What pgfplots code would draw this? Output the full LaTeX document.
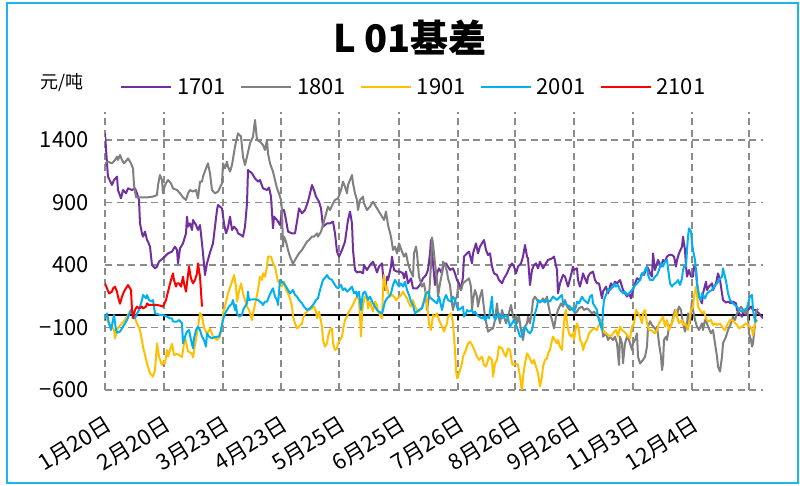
\documentclass[border=0pt]{standalone}
\usepackage{pgfplots}
\pgfplotsset{compat=1.18}
\usepackage{fontspec}
\setmainfont{Noto Sans CJK SC}
\definecolor{c1701}{HTML}{7030A0}
\definecolor{c1801}{HTML}{808080}
\definecolor{c1901}{HTML}{FFC000}
\definecolor{c2001}{HTML}{00B0F0}
\definecolor{c2101}{HTML}{FF0000}
\definecolor{frame}{HTML}{1EB4EC}
\definecolor{gridgray}{HTML}{8C8C8C}
\begin{document}
\begin{tikzpicture}
\useasboundingbox (0,0) rectangle (800pt,486pt);
\fill[white] (0,0) rectangle (800pt,486pt);
\draw[color=frame, line width=2pt] (7pt,3pt) rectangle (798pt,483pt);
\node[font=\fontsize{38}{40}\selectfont\bfseries] at (410pt,448pt) {L 01基差};
\node[font=\fontsize{18}{20}\selectfont, anchor=west, inner sep=0pt] at (40pt,403pt) {元/吨};
\begin{axis}[
  at={(105pt,96pt)}, anchor=south west, scale only axis,
  width=658pt, height=277.5pt,
  xmin=105, xmax=763, ymin=-600, ymax=1620,
  axis line style={draw=none},
  major tick length=0pt,
  xtick={105,164,223,281,339,399,458,515,574,633,692,749},
  xticklabels={1月20日,2月20日,3月23日,4月23日,5月25日,6月25日,7月26日,8月26日,9月26日,11月3日,12月4日,},
  ytick={-600,-100,400,900,1400},
  yticklabels={−600,−100,400,900,1400},
  xmajorgrids, ymajorgrids,
  major grid style={dash pattern=on 7pt off 4.5pt, color=gridgray, line width=1.5pt},
  yticklabel style={font=\fontsize{22}{24}\selectfont, anchor=east, inner sep=0pt, xshift=-16pt},
  xticklabel style={font=\fontsize{22}{24}\selectfont, xshift=-1pt, yshift=-24pt, rotate=32, anchor=north east, inner sep=0pt},
  legend columns=5,
  legend style={at={(0.0228,1.0919)}, anchor=west, draw=none, fill=none, inner sep=0pt,
    font=\fontsize{22}{24}\selectfont,
    nodes={inner sep=2pt},
    /tikz/every odd column/.append style={column sep=3pt},
    /tikz/every even column/.append style={column sep=12pt}},
  legend image code/.code={\draw[#1] (0pt,0pt) -- (50pt,0pt);},
  every axis plot/.append style={line width=2pt, line join=round},
]
\addplot[black, line width=1.5pt, forget plot] coordinates {(105,0) (763,0)};
\pgfplotsinvokeforeach{105,164,223,281,339,399,458,515,574,633,692,749}{
  \draw[black, line width=1.4pt] (axis cs:#1,0) -- ++(0pt,-5pt);
}
\addplot[c1701] coordinates {(105,1453)(107,1213)(108,1107)(112,1040)(114,1080)(117,1107)(118,1000)(121,933)(123,1000)(126,973)(128,1013)(132,1000)(135,1013)(137,973)(139,920)(140,733)(142,653)(143,627)(145,667)(147,600)(148,587)(150,547)(152,400)(155,373)(157,387)(159,427)(163,453)(168,493)(172,507)(175,547)(177,520)(178,413)(180,533)(183,573)(186,653)(187,787)(188,707)(190,733)(192,680)(193,760)(196,720)(198,680)(200,720)(202,573)(203,493)(205,320)(207,413)(210,500)(213,573)(217,840)(218,880)(222,853)(224,733)(226,653)(228,700)(230,787)(232,680)(234,707)(237,680)(238,653)(241,640)(243,627)(245,707)(247,893)(248,1160)(252,1133)(255,1093)(258,1067)(260,1080)(263,1013)(267,1000)(269,1020)(271,947)(273,693)(274,787)(277,760)(280,720)(282,827)(284,840)(286,760)(288,667)(292,653)(295,653)(297,747)(299,853)(302,813)(305,840)(308,907)(310,973)(312,1040)(314,1000)(316,947)(319,907)(321,853)(323,707)(327,733)(330,733)(333,747)(335,653)(337,507)(339,467)(342,520)(345,587)(348,760)(350,827)(352,733)(353,520)(355,360)(357,340)(360,347)(363,333)(364,400)(367,360)(370,400)(373,427)(375,387)(377,340)(379,387)(382,413)(383,320)(385,200)(387,307)(388,280)(391,387)(392,467)(394,360)(397,347)(400,347)(403,333)(404,293)(406,347)(408,253)(411,293)(413,213)(417,213)(420,240)(423,293)(426,320)(428,360)(430,493)(431,600)(433,413)(435,240)(437,333)(439,373)(442,333)(443,387)(446,413)(448,387)(450,360)(453,373)(455,333)(457,280)(459,253)(461,200)(463,307)(464,467)(467,493)(469,507)(472,413)(473,493)(476,573)(478,493)(480,547)(483,587)(484,600)(486,520)(488,480)(490,493)(492,387)(494,333)(497,320)(499,280)(502,253)(504,293)(507,333)(509,373)(512,413)(514,387)(516,333)(518,387)(521,413)(523,467)(525,560)(527,467)(528,453)(530,240)(532,360)(534,400)(536,413)(538,373)(540,427)(543,373)(545,400)(548,440)(552,453)(554,467)(557,360)(558,173)(560,253)(563,320)(565,307)(567,253)(568,227)(571,320)(573,387)(574,360)(577,373)(578,280)(580,227)(582,293)(583,333)(587,253)(588,307)(590,333)(593,347)(595,280)(597,253)(599,253)(602,133)(603,187)(606,227)(608,173)(611,253)(613,227)(615,267)(617,253)(620,280)(623,200)(625,173)(627,147)(629,173)(631,133)(633,200)(635,253)(637,293)(640,280)(642,333)(644,320)(647,387)(649,360)(650,333)(652,307)(653,493)(655,360)(657,413)(658,440)(661,387)(663,440)(665,427)(667,467)(669,480)(672,480)(674,467)(676,387)(677,440)(679,493)(682,547)(683,627)(685,520)(686,387)(687,307)(689,360)(691,307)(693,307)(694,387)(696,360)(697,253)(699,147)(702,93)(703,173)(706,267)(707,200)(709,227)(712,253)(713,200)(716,253)(718,333)(720,280)(722,173)(723,120)(726,99)(728,107)(731,93)(733,107)(736,93)(737,40)(739,13)(742,-13)(743,27)(746,0)(748,40)(751,67)(753,40)(756,40)(757,27)(759,13)(763,-27)};
\addlegendentry{1701}
\addplot[c1801] coordinates {(105,1213)(108,1227)(112,1213)(115,1240)(117,1267)(118,1240)(120,1280)(122,1240)(124,1213)(127,1240)(128,1253)(131,1213)(133,1173)(134,1040)(136,941)(140,941)(147,941)(153,947)(157,960)(158,1040)(160,1120)(162,1080)(163,973)(165,1040)(167,1067)(168,1080)(171,1053)(173,1013)(177,1000)(180,973)(183,941)(186,920)(188,973)(190,1000)(193,987)(196,1000)(198,933)(200,1067)(202,1067)(203,1107)(206,1173)(208,1213)(210,1133)(212,1000)(215,973)(218,987)(222,1053)(223,1213)(225,1173)(227,1227)(228,1187)(230,1147)(232,1200)(235,1347)(238,1453)(241,1427)(243,1267)(245,1200)(247,1267)(250,1373)(253,1427)(255,1560)(257,1400)(260,1387)(263,1360)(265,1320)(267,1400)(268,1293)(270,1213)(273,1147)(275,1080)(277,1013)(279,973)(281,920)(282,840)(283,547)(284,627)(286,587)(288,520)(290,467)(293,408)(295,440)(297,467)(299,493)(302,520)(304,547)(307,587)(309,600)(312,627)(314,627)(317,653)(318,627)(321,667)(323,720)(327,840)(328,867)(330,840)(333,893)(335,920)(338,933)(341,1000)(343,1067)(345,1027)(347,973)(348,1040)(352,1120)(353,1053)(355,973)(357,920)(358,840)(360,920)(363,947)(364,893)(367,840)(370,867)(373,907)(375,880)(378,840)(382,787)(384,760)(386,827)(388,720)(391,627)(393,520)(395,547)(397,493)(399,573)(402,507)(404,467)(406,493)(408,413)(410,360)(413,307)(414,493)(416,547)(417,493)(419,307)(422,227)(424,253)(426,160)(427,40)(429,147)(431,400)(432,620)(433,573)(435,413)(437,280)(438,147)(440,253)(442,333)(443,427)(445,400)(447,347)(448,293)(450,240)(452,93)(453,40)(455,120)(457,147)(458,227)(461,200)(463,253)(465,267)(467,280)(469,293)(471,227)(472,40)(473,120)(475,200)(477,147)(478,67)(480,147)(482,200)(483,120)(485,-13)(487,-93)(488,-133)(490,-120)(493,-107)(495,-40)(497,93)(498,13)(500,-67)(502,40)(503,13)(506,-67)(508,-13)(511,80)(513,-13)(514,-40)(516,0)(517,-67)(519,-13)(521,-120)(523,-200)(525,-93)(527,-67)(528,-13)(530,-67)(532,40)(533,120)(535,147)(537,120)(540,100)(542,120)(543,133)(545,107)(547,147)(548,93)(550,13)(552,-40)(554,-107)(556,-13)(558,40)(561,93)(563,67)(565,120)(567,67)(570,40)(573,53)(575,13)(577,27)(579,53)(582,67)(584,40)(587,53)(589,40)(592,13)(594,27)(597,0)(599,-27)(602,-67)(603,-173)(606,-147)(608,-200)(610,-173)(613,-200)(615,-173)(617,-227)(619,-400)(620,-173)(622,-227)(623,-387)(625,-227)(627,-173)(629,-200)(632,-280)(633,-227)(635,-200)(637,-147)(638,-333)(640,-387)(643,-360)(645,-333)(647,-253)(648,-93)(650,-50)(652,-80)(656,-120)(657,-93)(659,-227)(661,-333)(662,-440)(663,-387)(664,-200)(666,-173)(667,-200)(669,-93)(672,-67)(673,-13)(675,40)(677,-13)(678,40)(679,67)(681,40)(683,-67)(685,-133)(687,-67)(688,13)(690,-67)(692,120)(693,40)(695,-40)(697,-93)(699,-120)(702,-67)(703,-120)(705,-40)(707,-67)(708,-93)(711,-147)(713,-120)(715,-227)(717,-333)(718,-413)(720,-453)(722,-333)(723,-227)(726,-173)(728,-120)(731,-67)(733,-13)(735,-40)(737,13)(739,40)(741,67)(743,40)(745,13)(747,53)(748,-13)(749,-147)(751,-200)(752,-253)(753,-227)(755,-67)(756,27)(758,50)};
\addlegendentry{1801}
\addplot[c1901] coordinates {(105,0)(107,-40)(109,-67)(112,-93)(114,-120)(115,-187)(117,-120)(119,-93)(122,-67)(125,-40)(128,0)(131,40)(133,13)(135,-27)(137,-67)(140,-120)(143,-253)(147,-387)(150,-467)(153,-493)(155,-440)(157,-227)(159,-333)(162,-400)(164,-370)(165,-387)(167,-280)(168,-333)(170,-280)(172,-230)(174,-320)(177,-310)(182,-336)(185,-176)(188,-290)(192,-310)(193,-340)(195,-240)(198,-100)(200,16)(202,-10)(204,-100)(207,-150)(210,-110)(213,-173)(217,-200)(220,-173)(222,-93)(223,13)(225,67)(228,173)(232,267)(234,320)(236,227)(237,107)(239,187)(241,253)(243,173)(245,120)(247,67)(249,40)(252,-40)(253,13)(256,120)(258,200)(260,307)(262,280)(263,333)(265,307)(267,387)(268,467)(271,467)(273,413)(275,387)(277,307)(278,267)(280,253)(282,227)(284,267)(286,200)(288,173)(290,133)(292,67)(293,-13)(295,-67)(297,-107)(299,-93)(302,-67)(303,-27)(305,13)(307,27)(309,40)(312,53)(314,67)(316,27)(317,-27)(319,27)(320,-13)(322,-93)(323,-200)(325,-253)(327,-227)(328,-173)(330,-120)(332,-107)(333,-227)(335,-280)(337,-267)(338,-227)(340,-200)(342,-173)(343,-120)(345,-40)(347,-13)(348,13)(352,67)(355,120)(357,147)(359,120)(361,-173)(362,0)(363,80)(365,147)(367,133)(368,53)(370,107)(372,53)(373,27)(375,107)(377,80)(378,27)(380,0)(382,-27)(383,200)(384,320)(386,200)(387,227)(389,147)(392,160)(394,147)(396,120)(398,133)(401,160)(403,187)(405,160)(407,133)(409,93)(411,67)(413,120)(415,67)(417,40)(419,27)(422,67)(424,120)(426,187)(427,93)(429,-67)(431,-120)(433,0)(435,-13)(437,13)(439,-40)(442,-93)(444,-133)(447,-67)(448,-13)(451,13)(453,-67)(454,-173)(455,-280)(456,-440)(457,-507)(459,-467)(462,-387)(463,-333)(466,-280)(468,-227)(470,-213)(473,-253)(475,-293)(477,-333)(479,-360)(482,-333)(484,-400)(486,-413)(487,-387)(489,-333)(492,-360)(493,-493)(495,-387)(497,-360)(499,-253)(502,-267)(504,-307)(506,-333)(508,-267)(510,-280)(512,-387)(513,-400)(516,-387)(518,-400)(520,-493)(522,-613)(523,-493)(525,-387)(527,-307)(529,-333)(532,-387)(534,-360)(536,-413)(538,-467)(540,-573)(542,-493)(543,-413)(545,-360)(547,-347)(548,-307)(550,-280)(552,-200)(553,-173)(555,-200)(557,-227)(558,-200)(560,-253)(562,-280)(563,-147)(565,13)(566,40)(567,-67)(569,-147)(571,-173)(573,-147)(574,-200)(576,-93)(577,-67)(579,-120)(580,-200)(582,-227)(583,-280)(585,-227)(587,-200)(589,-147)(592,-120)(594,-107)(597,-120)(598,-93)(600,-67)(602,-40)(603,-120)(606,-147)(608,-160)(611,-173)(613,-147)(616,-120)(618,-173)(620,-93)(622,-120)(624,-133)(626,-147)(628,-173)(630,-187)(632,-93)(634,-67)(636,40)(638,13)(640,-13)(642,-67)(643,13)(645,40)(647,-67)(649,-120)(652,-125)(655,-147)(657,-120)(659,-67)(662,-27)(663,-13)(665,-93)(667,-40)(669,-120)(672,-67)(674,-13)(676,40)(677,-13)(679,-67)(682,-40)(683,-80)(685,-67)(687,-93)(688,-120)(689,-67)(691,40)(693,67)(694,147)(695,187)(696,227)(697,173)(698,67)(700,40)(702,13)(704,27)(706,-27)(708,-53)(711,-40)(713,-80)(715,-67)(717,-80)(720,-67)(723,-107)(725,-120)(727,-80)(730,-40)(732,-40)(737,-80)(739,-107)(742,-93)(744,-80)(746,-67)(748,-80)(750,-93)(752,-120)(753,-160)(755,-67)(757,-40)};
\addlegendentry{1901}
\addplot[c2001] coordinates {(105,-27)(107,13)(109,-67)(111,-120)(113,-40)(114,0)(116,-120)(117,-141)(120,-133)(123,-93)(125,-67)(127,-40)(129,0)(131,40)(133,13)(135,-27)(137,13)(139,40)(142,120)(143,160)(146,133)(147,160)(149,120)(152,107)(153,120)(155,13)(157,8)(160,0)(163,0)(167,-13)(170,-27)(172,-27)(173,-53)(177,-53)(179,-40)(182,-67)(183,-227)(185,-173)(187,-133)(189,-120)(191,-200)(193,-267)(194,-187)(196,-120)(198,-93)(200,-120)(202,-173)(204,-200)(206,-253)(207,-147)(209,-173)(212,-187)(215,-175)(219,-173)(221,-120)(223,-40)(225,13)(227,40)(229,67)(232,93)(233,120)(235,40)(236,80)(237,13)(239,-13)(242,0)(243,40)(245,67)(247,93)(248,187)(249,120)(252,125)(255,125)(258,120)(262,93)(263,80)(265,107)(267,107)(269,147)(272,200)(273,213)(275,147)(277,120)(278,80)(280,280)(282,267)(284,253)(286,227)(288,200)(290,173)(293,200)(295,160)(297,147)(299,120)(302,93)(304,67)(307,40)(310,53)(313,80)(314,93)(316,120)(318,133)(320,200)(322,253)(323,280)(326,307)(327,320)(329,293)(332,280)(334,253)(336,227)(338,213)(341,240)(343,200)(345,213)(347,187)(349,200)(352,227)(354,173)(356,187)(357,147)(359,187)(361,40)(362,120)(363,173)(365,187)(367,147)(368,120)(370,147)(373,93)(375,67)(377,40)(379,27)(382,13)(383,40)(385,107)(387,133)(389,147)(391,173)(393,240)(395,280)(397,253)(399,227)(401,253)(403,227)(405,267)(407,200)(409,160)(411,107)(413,80)(415,13)(417,27)(419,40)(422,53)(424,107)(426,173)(428,187)(430,140)(433,120)(435,107)(437,93)(439,147)(442,40)(444,120)(446,160)(448,120)(451,107)(453,147)(455,120)(457,67)(458,40)(461,53)(463,67)(464,-13)(466,13)(467,40)(469,27)(472,40)(473,13)(475,27)(477,0)(479,-13)(482,-27)(483,-13)(485,-40)(487,-13)(489,-27)(492,147)(493,13)(495,-40)(497,-13)(499,13)(502,-27)(504,-13)(506,0)(508,-27)(510,-93)(512,-67)(514,-40)(516,-80)(518,-120)(520,-173)(522,-173)(523,-120)(525,-93)(527,-120)(528,-133)(530,-147)(532,-120)(533,-80)(535,13)(537,67)(538,120)(540,110)(543,113)(545,100)(547,120)(550,107)(553,147)(555,133)(557,120)(560,147)(562,160)(563,93)(565,93)(567,80)(570,67)(573,40)(574,27)(576,67)(577,107)(579,93)(582,147)(584,120)(586,107)(588,93)(590,147)(592,160)(593,93)(595,67)(597,40)(598,-13)(600,-67)(602,-120)(603,40)(604,120)(606,160)(608,200)(610,200)(613,227)(614,253)(616,227)(618,240)(620,200)(623,173)(625,187)(627,160)(629,173)(632,200)(634,227)(637,253)(640,280)(642,333)(643,320)(645,360)(647,387)(648,320)(650,280)(653,280)(655,307)(657,320)(659,360)(661,413)(663,387)(665,427)(667,440)(668,373)(670,253)(672,227)(673,240)(675,253)(677,267)(678,280)(680,240)(682,293)(683,360)(684,387)(686,387)(687,520)(688,627)(689,693)(691,667)(692,573)(693,520)(695,440)(696,360)(697,253)(698,200)(699,147)(701,120)(702,173)(705,133)(707,173)(709,187)(712,200)(714,227)(717,253)(719,280)(722,307)(723,373)(725,307)(727,227)(728,173)(730,120)(733,93)(735,80)(737,67)(739,40)(742,27)(744,40)(747,53)(748,93)(750,147)(752,160)(753,40)(755,-53)(757,-40)};
\addlegendentry{2001}
\addplot[c2101] coordinates {(105,253)(107,213)(109,173)(112,187)(113,213)(115,227)(117,187)(118,147)(120,90)(122,147)(124,187)(127,227)(128,240)(131,200)(132,40)(133,-27)(135,40)(137,67)(139,53)(142,67)(143,53)(146,67)(147,93)(149,80)(153,80)(157,80)(160,75)(163,67)(166,120)(168,187)(171,280)(173,333)(174,280)(176,227)(177,253)(179,253)(181,227)(183,307)(184,253)(186,187)(187,253)(189,387)(191,293)(193,253)(195,280)(197,333)(198,413)(200,307)(202,67)};
\addlegendentry{2101}
\end{axis}
\end{tikzpicture}
\end{document}
